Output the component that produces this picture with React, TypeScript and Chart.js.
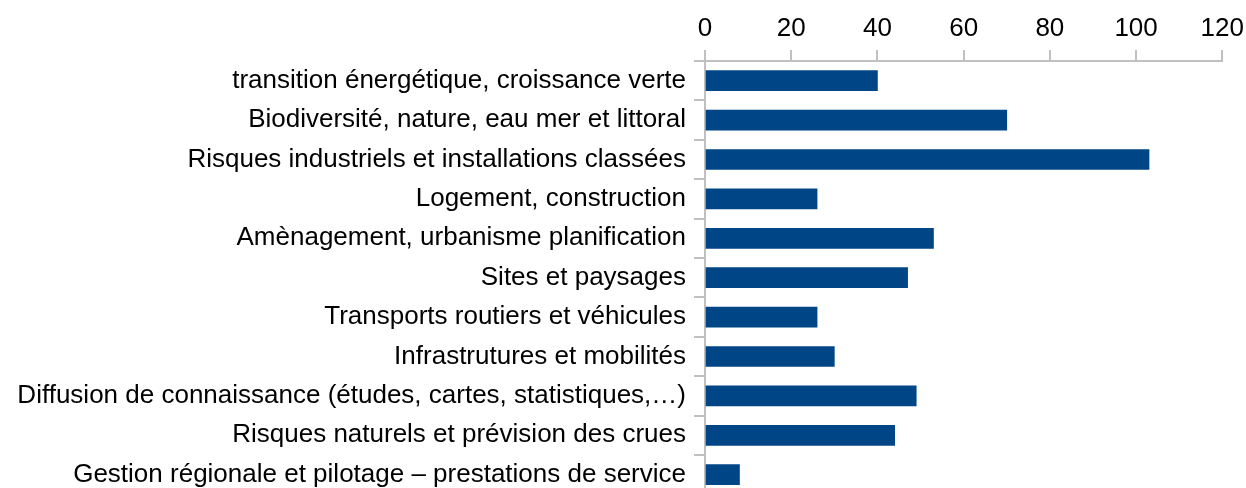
import React, { useEffect, useRef } from "react";
import { Chart, registerables } from "chart.js";

Chart.register(...registerables);

const categories = [
  "transition énergétique, croissance verte",
  "Biodiversité, nature, eau mer et littoral",
  "Risques industriels et installations classées",
  "Logement, construction",
  "Amènagement, urbanisme planification",
  "Sites et paysages",
  "Transports routiers et véhicules",
  "Infrastrutures et mobilités",
  "Diffusion de connaissance (études, cartes, statistiques,…)",
  "Risques naturels et prévision des crues",
  "Gestion régionale et pilotage – prestations de service",
];

const values = [40, 70, 103, 26, 53, 47, 26, 30, 49, 44, 8];

const xMin = 0;
const xMax = 120;
const xStep = 20;

export default function App() {
  const canvasRef = useRef<HTMLCanvasElement>(null);

  useEffect(() => {
    document.body.style.overflow = "hidden";
    const ctx = canvasRef.current!;
    const font = { family: "'Liberation Sans', Arial, sans-serif", size: 26 };
    const axisColor = "#c0c0c0";
    const chart = new Chart(ctx, {
      type: "bar",
      data: {
        labels: categories,
        datasets: [
          {
            data: values,
            backgroundColor: "#004586",
            barThickness: 20,
          },
        ],
      },
      options: {
        indexAxis: "y",
        animation: false,
        responsive: true,
        maintainAspectRatio: false,
        layout: { padding: { top: 0, right: 25, bottom: 0, left: 0 } },
        plugins: { legend: { display: false }, tooltip: { enabled: false } },
        scales: {
          x: {
            position: "top",
            min: xMin,
            max: xMax,
            ticks: { stepSize: xStep, color: "#000", font, padding: 6 },
            grid: {
              drawOnChartArea: false,
              drawTicks: true,
              tickLength: 11,
              color: axisColor,
              lineWidth: 2,
            },
            border: { display: true, color: axisColor, width: 2 },
            afterFit: (scale: any) => {
              scale.height = 61;
            },
          },
          y: {
            ticks: { color: "#000", font, padding: 8 },
            grid: {
              offset: true,
              drawOnChartArea: false,
              drawTicks: true,
              tickLength: 11,
              color: axisColor,
              lineWidth: 2,
            },
            border: { display: true, color: axisColor, width: 2 },
            afterFit: (scale: any) => {
              scale.width = 705;
            },
          },
        },
      },
    });
    return () => chart.destroy();
  }, []);

  return (
    <div style={{ position: "fixed", left: 0, top: 0, width: 1246, height: 488, overflow: "hidden", background: "#fff" }}>
      <div style={{ position: "relative", width: 1250, height: 518 }}>
        <canvas ref={canvasRef} />
      </div>
    </div>
  );
}
